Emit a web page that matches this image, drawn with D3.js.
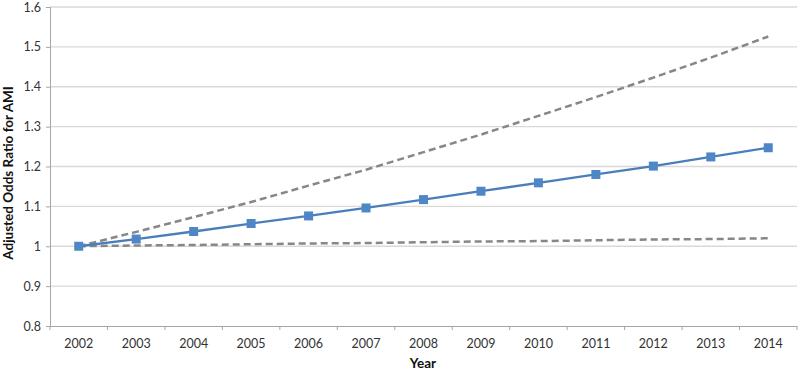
<!DOCTYPE html>
<html><head><meta charset="utf-8">
<script src="https://cdn.jsdelivr.net/npm/d3@7"></script>
<style>body{margin:0;background:#fff}svg{display:block}text{font-family:Lato,"Open Sans",sans-serif}</style>
</head><body><svg id="c" width="800" height="371"></svg>
<script>
const years = ["2002","2003","2004","2005","2006","2007","2008","2009","2010","2011","2012","2013","2014"];
const estimate = [1.000,1.018,1.037,1.057,1.076,1.096,1.117,1.138,1.159,1.180,1.201,1.224,1.247];
const upperCI = [1.000,1.036,1.073,1.111,1.152,1.192,1.236,1.280,1.327,1.374,1.423,1.473,1.526];
const lowerCI = [1.000,1.002,1.003,1.005,1.007,1.008,1.010,1.012,1.013,1.015,1.017,1.018,1.020];
const yTicks = [0.8,0.9,1.0,1.1,1.2,1.3,1.4,1.5,1.6];

const svg = d3.select("#c");
const L = 50, R = 797, T = 7, B = 326;
const x = d3.scaleBand().domain(years).range([L, R]);
const y = d3.scaleLinear().domain([0.8, 1.6]).range([B, T]);

// gridlines
svg.append("g").selectAll("line").data(yTicks.slice(1)).join("line")
  .attr("x1", L).attr("x2", R).attr("y1", d => y(d)).attr("y2", d => y(d))
  .attr("stroke", "#d9d9d9").attr("stroke-width", 1.3);

// y axis
const ya = svg.append("g").attr("transform", `translate(${L},0)`)
  .call(d3.axisLeft(y).tickValues(yTicks).tickSize(4).tickPadding(5).tickFormat(d => d3.format("")(+d.toFixed(1))));
ya.select(".domain").attr("stroke", "#a6a6a6");
ya.selectAll(".tick line").attr("stroke", "#a6a6a6");
ya.selectAll("text").attr("font-size", 12.5).attr("fill", "#333");

// x axis
const xa = svg.append("g").attr("transform", `translate(0,${B})`)
  .call(d3.axisBottom(x).tickSize(0).tickPadding(13).tickSizeOuter(0));
xa.select(".domain").attr("stroke", "#a6a6a6");
xa.selectAll("text").attr("font-size", 12.5).attr("fill", "#333");
xa.append("g").selectAll("line").data(years).join("line")
  .attr("x1", d => x(d) + x.bandwidth()).attr("x2", d => x(d) + x.bandwidth())
  .attr("y1", 0).attr("y2", 4).attr("stroke", "#a6a6a6");
xa.append("line").attr("x1", L).attr("x2", L).attr("y1", 0).attr("y2", 4).attr("stroke", "#a6a6a6");

const cx = d => x(d) + x.bandwidth() / 2;
const line = d3.line().x((d, i) => cx(years[i])).y(d => y(d));

[upperCI, lowerCI].forEach(s => {
  svg.append("path").datum(s).attr("d", line).attr("fill", "none")
    .attr("stroke", "#878787").attr("stroke-width", 2.5).attr("stroke-dasharray", "7,4");
});
svg.append("path").datum(estimate).attr("d", line).attr("fill", "none")
  .attr("stroke", "#4a7ebb").attr("stroke-width", 2.3);
svg.append("g").selectAll("rect").data(estimate).join("rect")
  .attr("x", (d, i) => cx(years[i]) - 4.5).attr("y", d => y(d) - 4.5)
  .attr("width", 9).attr("height", 9).attr("fill", "#4f86c6");

// axis titles
svg.append("text").attr("x", 423).attr("y", 368).attr("text-anchor", "middle")
  .attr("font-size", 13.5).attr("font-weight", "bold").attr("fill", "#111").text("Year");
svg.append("text").attr("transform", "translate(13,173) rotate(-90)").attr("text-anchor", "middle")
  .attr("font-size", 13.5).attr("font-weight", "bold").attr("fill", "#111").text("Adjusted Odds Ratio for AMI");
</script></body></html>
